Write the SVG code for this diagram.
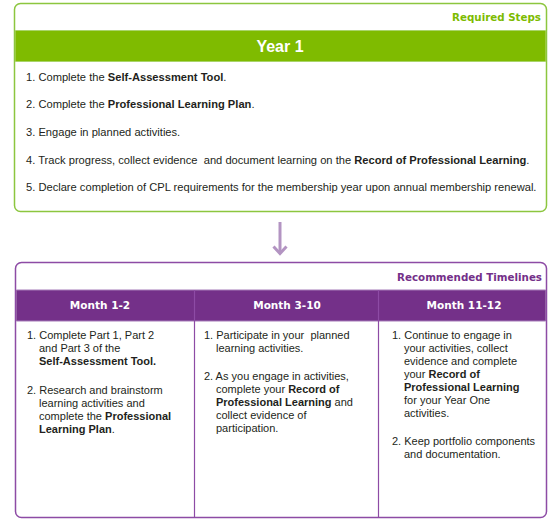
<svg xmlns="http://www.w3.org/2000/svg" width="558" height="523" viewBox="0 0 558 523">
<style>
.t{font-family:"Liberation Sans",Arial,sans-serif;font-size:11px;fill:#231f20}
.tt{font-size:11.15px}
.b{font-weight:bold}
.pre{white-space:pre}
.hd{font-family:"DejaVu Sans",Verdana,sans-serif;font-weight:bold;font-size:10.3px}
.mh{font-family:"DejaVu Sans",Verdana,sans-serif;font-weight:bold;font-size:10.5px;fill:#ffffff;text-anchor:middle}
</style>
<rect width="558" height="523" fill="#ffffff"/>
<g id="required-steps">
  <rect x="14.5" y="3.5" width="532" height="208" rx="6" fill="#ffffff" stroke="#8cc63f" stroke-width="1.5"/>
  <text x="541" y="21" class="hd" fill="#7dbb00" text-anchor="end">Required Steps</text>
  <rect x="15.3" y="30.5" width="530.4" height="31" fill="#7fbb00"/>
  <line x1="15.3" y1="30.5" x2="545.7" y2="30.5" stroke="#a9d46a" stroke-width="1"/>
  <line x1="15.3" y1="61.5" x2="545.7" y2="61.5" stroke="#a9d46a" stroke-width="1"/>
  <text x="280" y="52" font-family="'Liberation Sans',Arial,sans-serif" font-weight="bold" font-size="16" fill="#ffffff" text-anchor="middle">Year 1</text>
  <text x="26" y="81" class="t tt">1. Complete the <tspan class="b">Self-Assessment Tool</tspan>.</text>
  <text x="26" y="108" class="t tt">2. Complete the <tspan class="b">Professional Learning Plan</tspan>.</text>
  <text x="26" y="136" class="t tt">3. Engage in planned activities.</text>
  <text x="26" y="164" class="t tt pre">4. Track progress, collect evidence  and document learning on the <tspan class="b">Record of Professional Learning</tspan>.</text>
  <text x="26" y="191" class="t tt">5. Declare completion of CPL requirements for the membership year upon annual membership renewal.</text>
</g>
<g id="connectors">
  <line x1="280" y1="222" x2="280" y2="253" stroke="#b394c2" stroke-width="3"/>
  <polyline points="273.5,246.5 280,253.5 286.5,246.5" fill="none" stroke="#b394c2" stroke-width="3" stroke-linejoin="miter"/>
</g>
<g id="recommended-timelines">
  <rect x="15.5" y="262.5" width="531" height="255" rx="6" fill="#ffffff" stroke="#8d4ba5" stroke-width="1.5"/>
  <text x="542" y="281" class="hd" fill="#743089" text-anchor="end">Recommended Timelines</text>
  <rect x="16.3" y="290" width="529.4" height="31" fill="#743089"/>
  <line x1="16.3" y1="290" x2="545.7" y2="290" stroke="#a57bb8" stroke-width="1"/>
  <line x1="16.3" y1="321" x2="545.7" y2="321" stroke="#a57bb8" stroke-width="1"/>
  <line x1="194.5" y1="290" x2="194.5" y2="517" stroke="#8d4ba5" stroke-width="1.2"/>
  <line x1="378.5" y1="290" x2="378.5" y2="517" stroke="#8d4ba5" stroke-width="1.2"/>
</g>
<g id="month-1-2">
  <text x="100" y="309" class="mh">Month 1-2</text>
  <text class="t">
    <tspan x="27" y="339">1. Complete Part 1, Part 2</tspan>
    <tspan x="39" y="352">and Part 3 of the</tspan>
    <tspan x="39" y="365" class="b">Self-Assessment Tool.</tspan>
    <tspan x="27" y="394">2. Research and brainstorm</tspan>
    <tspan x="39" y="407">learning activities and</tspan>
    <tspan x="39" y="420">complete the <tspan class="b">Professional</tspan></tspan>
    <tspan x="39" y="433"><tspan class="b">Learning Plan</tspan>.</tspan>
  </text>
</g>
<g id="month-3-10">
  <text x="287" y="309" class="mh">Month 3-10</text>
  <text class="t">
    <tspan x="204" y="339" class="pre">1. Participate in your  planned</tspan>
    <tspan x="216" y="352">learning activities.</tspan>
    <tspan x="204" y="380">2. As you engage in activities,</tspan>
    <tspan x="216" y="393">complete your <tspan class="b">Record of</tspan></tspan>
    <tspan x="216" y="406" class="b">Professional Learning <tspan font-weight="normal">and</tspan></tspan>
    <tspan x="216" y="419">collect evidence of</tspan>
    <tspan x="216" y="432">participation.</tspan>
  </text>
</g>
<g id="month-11-12">
  <text x="464" y="309" class="mh">Month 11-12</text>
  <text class="t">
    <tspan x="392" y="339">1. Continue to engage in</tspan>
    <tspan x="404" y="352">your activities, collect</tspan>
    <tspan x="404" y="365">evidence and complete</tspan>
    <tspan x="404" y="378">your <tspan class="b">Record of</tspan></tspan>
    <tspan x="404" y="391" class="b">Professional Learning</tspan>
    <tspan x="404" y="404">for your Year One</tspan>
    <tspan x="404" y="417">activities.</tspan>
    <tspan x="392" y="445">2. Keep portfolio components</tspan>
    <tspan x="404" y="458">and documentation.</tspan>
  </text>
</g>
</svg>
